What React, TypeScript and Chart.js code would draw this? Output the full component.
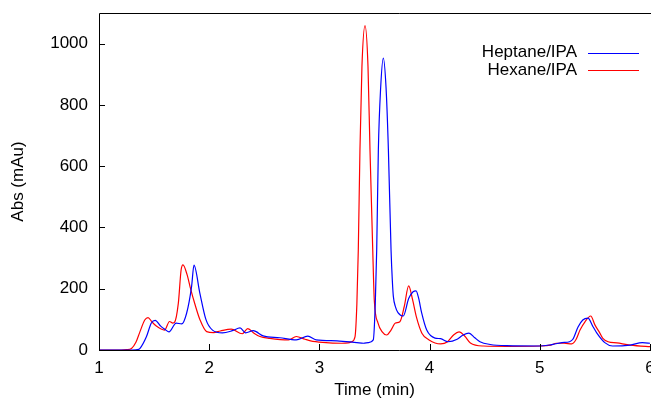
import { useEffect, useRef } from "react";
import { Chart, registerables } from "chart.js";

Chart.register(...registerables);

const seriesNames = ["Heptane/IPA", "Hexane/IPA"];
const seriesColors = ["#0000ff", "#ff0000"];

const heptaneTime = [
  1.0, 1.3, 1.36, 1.372, 1.43, 1.475, 1.51, 1.56, 1.6, 1.635, 1.7, 1.75, 1.795, 1.84, 1.862,
  1.915, 1.97, 2.03, 2.12, 2.21, 2.28, 2.33, 2.4, 2.49, 2.64, 2.79, 2.895, 2.97, 3.16, 3.34,
  3.4, 3.444, 3.489, 3.507, 3.52, 3.535, 3.555, 3.58, 3.605, 3.626, 3.65, 3.662, 3.671, 3.691,
  3.713, 3.761, 3.81, 3.85, 3.877, 3.9, 3.928, 3.974, 4.049, 4.1, 4.167, 4.25, 4.3, 4.357, 4.41,
  4.457, 4.55, 4.7, 5.0, 5.1, 5.2, 5.27, 5.3, 5.347, 5.39, 5.437, 5.483, 5.518, 5.59, 5.66, 5.82,
  5.93, 6.0, 6.05,
];
const heptaneAbs = [
  0, 0, 2, 5, 43, 88, 97, 78, 67, 59, 88, 85, 120, 207, 277,
  186, 100, 65, 56, 63, 72, 56, 63, 46, 40, 33, 45, 33, 30, 24,
  22, 24, 33, 150, 327, 654, 850, 953, 855, 654, 327, 225, 175, 140,
  122, 111, 168, 190, 193, 170, 121, 65, 39, 37, 27, 35, 48, 55, 40,
  27, 18, 14, 13, 17, 24, 27, 35, 75, 98, 104, 76, 55, 24, 13, 16,
  24, 22, 20,
];

const hexaneTime = [
  1.0, 1.2, 1.25, 1.295, 1.335, 1.372, 1.415, 1.445, 1.48, 1.52, 1.595, 1.64, 1.67, 1.685, 1.72,
  1.745, 1.762, 1.8, 1.826, 1.87, 1.917, 1.977, 2.04, 2.1, 2.2, 2.3, 2.35, 2.41, 2.46, 2.55,
  2.72, 2.79, 2.87, 2.92, 3.03, 3.2, 3.26, 3.293, 3.323, 3.34, 3.353, 3.368, 3.386, 3.414, 3.441,
  3.459, 3.484, 3.498, 3.532, 3.568, 3.611, 3.65, 3.69, 3.73, 3.77, 3.81, 3.845, 3.88, 3.93,
  3.995, 4.1, 4.16, 4.22, 4.267, 4.32, 4.37, 4.49, 4.7, 5.0, 5.1, 5.15, 5.22, 5.29, 5.33, 5.365,
  5.41, 5.462, 5.5, 5.545, 5.57, 5.62, 5.7, 5.82, 6.0, 6.05,
];
const hexaneAbs = [
  0, 0, 1, 5, 25, 60, 98, 106, 92, 78, 65, 93, 88, 90, 153,
  261, 278, 245, 207, 150, 98, 60, 57, 62, 68, 53, 70, 54, 44, 38,
  33, 44, 35, 30, 25, 22, 23, 27, 43, 150, 327, 654, 925, 1059, 925,
  654, 327, 163, 88, 60, 49, 65, 88, 92, 142, 209, 165, 108, 55,
  33, 20, 26, 50, 59, 45, 23, 13, 12, 13, 16, 22, 22, 20, 35, 65,
  92, 111, 82, 55, 39, 27, 23, 16, 11, 10,
];

const xMin = 1;
const xMax = 6;
const yMin = 0;
const yMax = 1100;
const yStep = 200;
const xTitle = "Time (min)";
const yTitle = "Abs (mAu)";

const FONT_FAMILY = '"Liberation Sans", Arial, Helvetica, sans-serif';
const FONT_SIZE = 17;

const framePlugin = {
  id: "frame",
  afterDraw(chart: any) {
    const { ctx, chartArea, scales } = chart;
    const { left, top, bottom } = chartArea;
    ctx.save();
    ctx.strokeStyle = "#000";
    ctx.lineWidth = 1;
    ctx.beginPath();
    ctx.moveTo(left + 0.5, top + 0.5);
    ctx.lineTo(chart.width, top + 0.5);
    ctx.moveTo(left + 0.5, top + 0.5);
    ctx.lineTo(left + 0.5, bottom + 0.5);
    ctx.lineTo(chart.width, bottom + 0.5);
    const tick = 6;
    scales.y.ticks.forEach((t: any) => {
      const y = Math.round(scales.y.getPixelForValue(t.value)) + 0.5;
      ctx.moveTo(left, y);
      ctx.lineTo(left + tick, y);
    });
    scales.x.ticks.forEach((t: any) => {
      const x = Math.round(scales.x.getPixelForValue(t.value)) + 0.5;
      ctx.moveTo(x, bottom);
      ctx.lineTo(x, bottom - tick);
    });
    ctx.stroke();
    ctx.restore();
  },
};

const keyPlugin = {
  id: "gnuKey",
  afterDraw(chart: any) {
    const { ctx } = chart;
    ctx.save();
    ctx.font = `${FONT_SIZE}px ${FONT_FAMILY}`;
    ctx.textAlign = "right";
    ctx.textBaseline = "middle";
    chart.data.datasets.forEach((ds: any, i: number) => {
      const y = 52.5 + i * 17.5;
      ctx.fillStyle = "#000";
      ctx.fillText(ds.label, 577, y);
      ctx.strokeStyle = ds.borderColor;
      ctx.lineWidth = 1.2;
      ctx.beginPath();
      ctx.moveTo(588, Math.round(y) + 0.5);
      ctx.lineTo(639, Math.round(y) + 0.5);
      ctx.stroke();
    });
    ctx.restore();
  },
};

export default function App() {
  const ref = useRef<HTMLCanvasElement | null>(null);

  useEffect(() => {
    if (!ref.current) return;
    const times = [heptaneTime, hexaneTime];
    const values = [heptaneAbs, hexaneAbs];
    const chart = new Chart(ref.current, {
      type: "line",
      data: {
        datasets: seriesNames.map((name, i) => ({
          label: name,
          data: times[i].map((t, j) => ({ x: t, y: values[i][j] })),
          borderColor: seriesColors[i],
          backgroundColor: seriesColors[i],
          borderWidth: 1.2,
          pointRadius: 0,
          fill: false,
          cubicInterpolationMode: "monotone" as const,
          clip: false as any,
        })),
      },
      options: {
        animation: false,
        responsive: false,
        devicePixelRatio: 1,
        layout: { padding: { top: 13, right: 50, left: 0, bottom: 0 } },
        plugins: {
          legend: { display: false },
          tooltip: { enabled: false },
        },
        scales: {
          x: {
            type: "linear",
            min: xMin,
            max: xMax,
            grid: { display: false, drawTicks: false },
            border: { display: false },
            ticks: {
              stepSize: 1,
              includeBounds: false,
              padding: 8,
              color: "#000",
              font: { family: FONT_FAMILY, size: FONT_SIZE },
              maxRotation: 0,
              callback: (v: any) => String(v),
            },
            title: {
              display: true,
              text: xTitle,
              color: "#000",
              font: { family: FONT_FAMILY, size: FONT_SIZE, lineHeight: 1.2 },
              padding: { top: 0, bottom: 0 },
            },
            afterFit(scale: any) {
              scale.height = 51;
              scale.paddingLeft = 0;
              scale.paddingRight = 0;
            },
          },
          y: {
            type: "linear",
            min: yMin,
            max: yMax,
            grid: { display: false, drawTicks: false },
            border: { display: false },
            ticks: {
              stepSize: yStep,
              includeBounds: false,
              padding: 11,
              color: "#000",
              font: { family: FONT_FAMILY, size: FONT_SIZE },
              callback: (v: any) => String(v),
            },
            title: {
              display: true,
              text: yTitle,
              color: "#000",
              font: { family: FONT_FAMILY, size: FONT_SIZE, lineHeight: 1.2 },
              padding: { top: 8, bottom: 0 },
            },
            afterFit(scale: any) {
              scale.width = 99;
              scale.paddingTop = 0;
              scale.paddingBottom = 0;
            },
          },
        },
      },
      plugins: [framePlugin, keyPlugin],
    });
    return () => chart.destroy();
  }, []);

  return (
    <div
      style={{
        position: "absolute",
        left: 0,
        top: 0,
        width: 651,
        height: 401,
        overflow: "hidden",
        background: "#fff",
      }}
    >
      <canvas ref={ref} width={700} height={401} style={{ display: "block", width: 700, height: 401 }} />
    </div>
  );
}
